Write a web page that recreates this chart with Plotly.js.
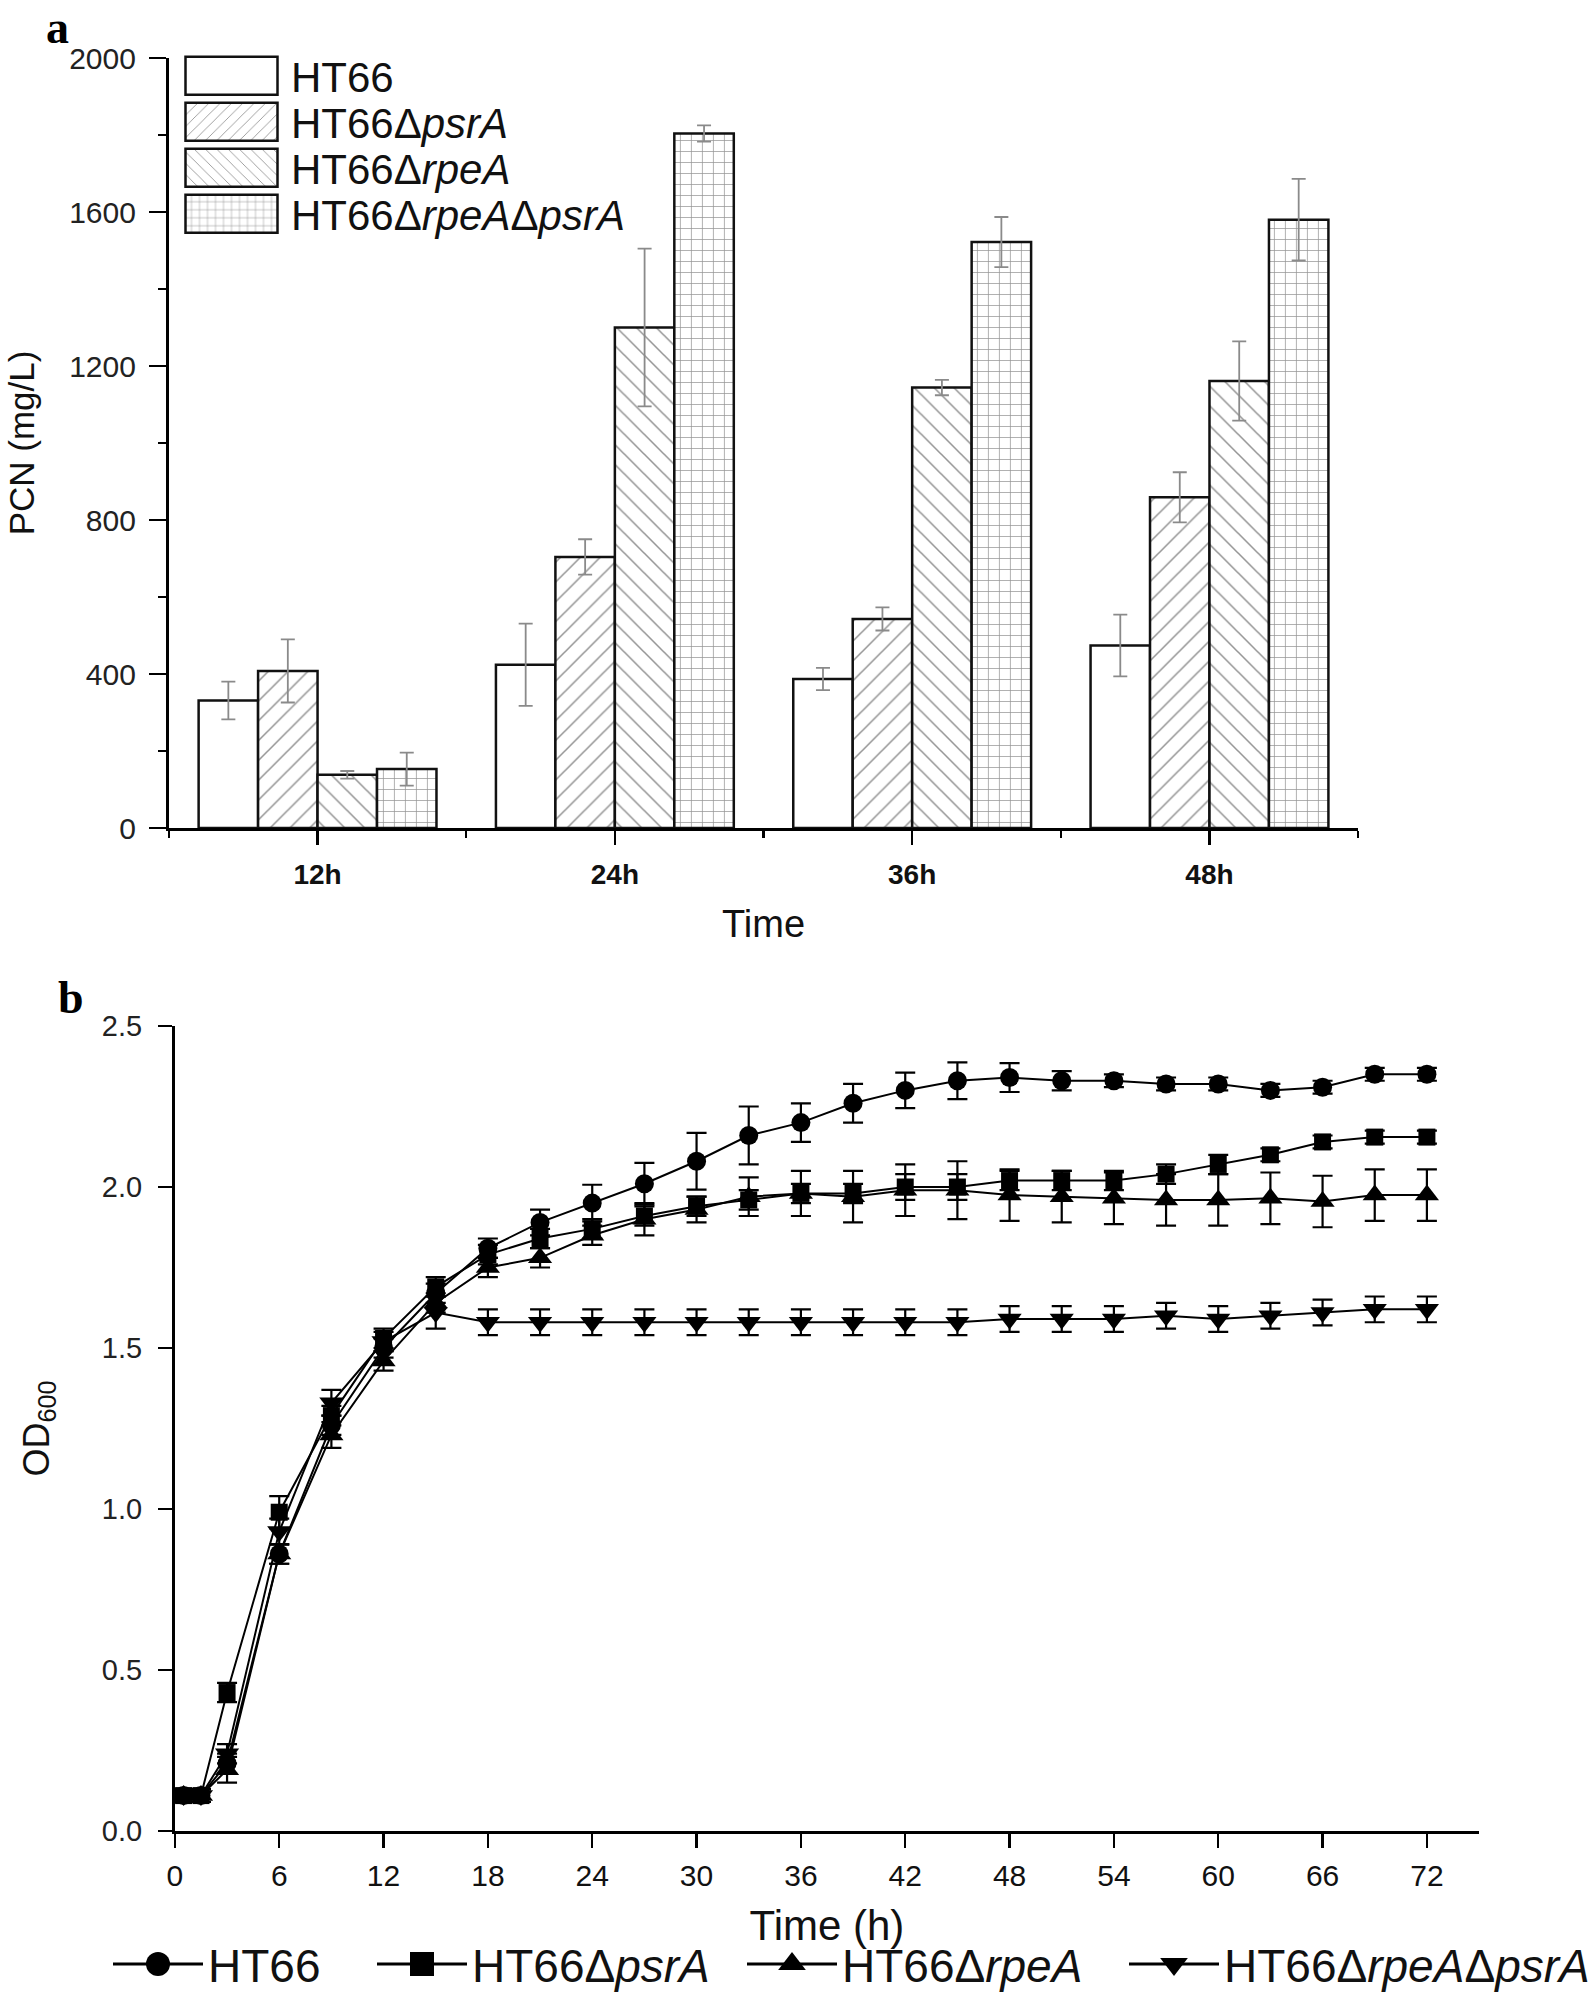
<!DOCTYPE html>
<html>
<head>
<meta charset="utf-8">
<script src="https://cdn.plot.ly/plotly-3.0.1.min.js"></script>
<style>html,body{margin:0;padding:0;background:#fff;} #chart{width:1595px;height:2001px;}</style>
</head>
<body>
<div id="chart"></div>
<script>
// ---------- Panel a data (PCN, mg/L) ----------
const categories = ['12h', '24h', '36h', '48h'];
const seriesNames = ['HT66', 'HT66Δ<i>psrA</i>', 'HT66Δ<i>rpeA</i>', 'HT66Δ<i>rpeA</i>Δ<i>psrA</i>'];
const pcnHT66 = [331, 424, 387, 474];
const pcnHT66Err = [49, 107, 29, 80];
const pcnPsrA = [408, 704, 543, 859];
const pcnPsrAErr = [82, 46, 30, 65];
const pcnRpeA = [138, 1300, 1144, 1161];
const pcnRpeAErr = [10, 205, 20, 103];
const pcnRpeAPsrA = [153, 1804, 1522, 1580];
const pcnRpeAPsrAErr = [43, 21, 65, 106];
const pcnTicks = [0, 400, 800, 1200, 1600, 2000];

// ---------- Panel b data (OD600) ----------
const timeH = [0.5, 1.5, 3, 6, 9, 12, 15, 18, 21, 24, 27, 30, 33, 36, 39, 42, 45, 48, 51, 54, 57, 60, 63, 66, 69, 72];
const odHT66 = [0.11, 0.11, 0.21, 0.86, 1.26, 1.50, 1.67, 1.81, 1.89, 1.95, 2.01, 2.08, 2.16, 2.20, 2.26, 2.30, 2.33, 2.34, 2.33, 2.33, 2.32, 2.32, 2.30, 2.31, 2.35, 2.35];
const odHT66Err = [0.02, 0.02, 0.03, 0.03, 0.03, 0.03, 0.03, 0.03, 0.04, 0.057, 0.065, 0.088, 0.09, 0.06, 0.06, 0.055, 0.057, 0.045, 0.03, 0.02, 0.02, 0.02, 0.02, 0.02, 0.02, 0.02];
const odPsrA = [0.11, 0.11, 0.43, 0.99, 1.29, 1.53, 1.69, 1.79, 1.84, 1.87, 1.91, 1.94, 1.96, 1.98, 1.98, 2.00, 2.00, 2.02, 2.02, 2.02, 2.04, 2.07, 2.10, 2.14, 2.155, 2.155];
const odPsrAErr = [0.02, 0.02, 0.03, 0.05, 0.03, 0.03, 0.03, 0.03, 0.03, 0.03, 0.03, 0.03, 0.03, 0.03, 0.03, 0.04, 0.04, 0.03, 0.03, 0.03, 0.03, 0.03, 0.02, 0.02, 0.02, 0.02];
const odRpeA = [0.11, 0.11, 0.19, 0.86, 1.23, 1.46, 1.64, 1.75, 1.78, 1.85, 1.90, 1.93, 1.97, 1.98, 1.97, 1.99, 1.99, 1.975, 1.97, 1.965, 1.96, 1.96, 1.965, 1.955, 1.975, 1.975];
const odRpeAErr = [0.02, 0.02, 0.04, 0.03, 0.04, 0.03, 0.03, 0.03, 0.03, 0.03, 0.05, 0.04, 0.06, 0.07, 0.08, 0.08, 0.09, 0.08, 0.08, 0.08, 0.08, 0.08, 0.08, 0.08, 0.08, 0.08];
const odRpeAPsrA = [0.11, 0.11, 0.24, 0.93, 1.33, 1.52, 1.61, 1.58, 1.58, 1.58, 1.58, 1.58, 1.58, 1.58, 1.58, 1.58, 1.58, 1.59, 1.59, 1.59, 1.60, 1.59, 1.60, 1.61, 1.62, 1.62];
const odRpeAPsrAErr = [0.02, 0.02, 0.03, 0.04, 0.04, 0.03, 0.05, 0.04, 0.04, 0.04, 0.04, 0.04, 0.04, 0.04, 0.04, 0.04, 0.04, 0.04, 0.04, 0.04, 0.04, 0.04, 0.04, 0.04, 0.04, 0.04];
const timeTicks = [0, 6, 12, 18, 24, 30, 36, 42, 48, 54, 60, 66, 72];
const odTicks = [0, 0.5, 1.0, 1.5, 2.0, 2.5];

// ---------- helpers ----------
const W = 1595, H = 2001;
const FONT = 'Liberation Sans, Arial, Helvetica, sans-serif';
const SERIF = 'Liberation Serif, Times New Roman, serif';
const px = v => v / W;
const py = v => 1 - v / H;
const catIdx = categories.map((c, i) => i);
const catBounds = [-0.5].concat(categories.map((c, i) => i + 0.5));

function barTrace(name, y, err, shape) {
  return {
    type: 'bar', name: name, x: catIdx, y: y, xaxis: 'x', yaxis: 'y',
    marker: {
      color: 'white',
      line: {color: '#111', width: 2.5},
      pattern: {shape: shape, fgcolor: '#2a2a2a', bgcolor: 'white', size: shape === '+' ? 11 : 14, solidity: shape === '+' ? 0.13 : 0.11, fillmode: 'overlay'}
    },
    error_y: {type: 'data', array: err, visible: true, color: '#8a8a8a', thickness: 1.8, width: 7},
    legend: 'legend'
  };
}

function lineTrace(name, y, err, symbol, size, legendId) {
  return {
    type: 'scatter', mode: 'lines+markers', name: name, x: timeH, y: y, xaxis: 'x2', yaxis: 'y2',
    line: {color: '#000', width: 2},
    marker: {symbol: symbol, size: size, color: '#000', line: {width: 0}},
    error_y: {type: 'data', array: err, visible: true, color: '#000', thickness: 2.2, width: 10},
    legend: legendId
  };
}

const data = [
  barTrace(seriesNames[0], pcnHT66, pcnHT66Err, ''),
  barTrace(seriesNames[1], pcnPsrA, pcnPsrAErr, '/'),
  barTrace(seriesNames[2], pcnRpeA, pcnRpeAErr, '\\'),
  barTrace(seriesNames[3], pcnRpeAPsrA, pcnRpeAPsrAErr, '+'),
  lineTrace(seriesNames[0], odHT66, odHT66Err, 'circle', 19, 'legend2'),
  lineTrace(seriesNames[1], odPsrA, odPsrAErr, 'square', 17, 'legend3'),
  lineTrace(seriesNames[2], odRpeA, odRpeAErr, 'triangle-up', 21, 'legend4'),
  lineTrace(seriesNames[3], odRpeAPsrA, odRpeAPsrAErr, 'triangle-down', 21, 'legend5')
];

const axisCommon = {
  showline: true, linecolor: '#000', showgrid: false, zeroline: false,
  ticks: 'outside', tickcolor: '#000', automargin: false
};

const legendB = (x) => ({
  x: px(x), xanchor: 'left', y: py(1964), yanchor: 'middle', xref: 'paper', yref: 'paper',
  orientation: 'h', itemwidth: 90, bgcolor: 'rgba(0,0,0,0)', font: {family: FONT, size: 46, color: '#111'}
});

const layout = {
  width: W, height: H,
  margin: {l: 0, r: 0, t: 0, b: 0},
  paper_bgcolor: 'white', plot_bgcolor: 'white',
  font: {family: FONT, color: '#111'},
  barmode: 'group', bargap: 0.2, bargroupgap: 0,
  xaxis: Object.assign({}, axisCommon, {
    domain: [px(169), px(1359)], anchor: 'y', range: [-0.5, categories.length - 0.5],
    tickmode: 'array', tickvals: catIdx, ticktext: categories,
    ticklen: 14, tickwidth: 2.5, linewidth: 3, ticklabelstandoff: 5,
    tickfont: {family: FONT, size: 28, color: '#111', weight: 'bold'},
    minor: {tickmode: 'array', tickvals: catBounds, ticks: 'outside', ticklen: 7, tickwidth: 2.5, tickcolor: '#000'},
    title: {text: 'Time', font: {family: FONT, size: 38, color: '#111'}, standoff: 22}
  }),
  yaxis: Object.assign({}, axisCommon, {
    domain: [py(828), py(58)], anchor: 'x', range: [0, 2000],
    tickmode: 'array', tickvals: pcnTicks,
    ticklen: 17, tickwidth: 2.5, linewidth: 3, ticklabelstandoff: 7,
    tickfont: {family: FONT, size: 30, color: '#222'},
    minor: {dtick: 200, tick0: 0, ticks: 'outside', ticklen: 8, tickwidth: 2.5, tickcolor: '#000'},
    title: {text: 'PCN (mg/L)', font: {family: FONT, size: 35, color: '#111'}, standoff: 24}
  }),
  xaxis2: Object.assign({}, axisCommon, {
    domain: [px(175), px(1480)], anchor: 'y2', range: [0, 75],
    tickmode: 'array', tickvals: timeTicks,
    ticklen: 14, tickwidth: 2.5, linewidth: 3, ticklabelstandoff: 2,
    tickfont: {family: FONT, size: 30, color: '#111'},
    title: {text: 'Time (h)', font: {family: FONT, size: 42, color: '#111'}, standoff: 20}
  }),
  yaxis2: Object.assign({}, axisCommon, {
    domain: [py(1831), py(1026)], anchor: 'x2', range: [0, 2.5],
    tickmode: 'array', tickvals: odTicks, tickformat: '.1f',
    ticklen: 14, tickwidth: 2.5, linewidth: 3, ticklabelstandoff: 10,
    tickfont: {family: FONT, size: 29, color: '#222'},
    title: {text: 'OD<sub>600</sub>', font: {family: FONT, size: 36, color: '#111'}, standoff: 42}
  }),
  legend: {
    x: px(180), xanchor: 'left', y: py(42), yanchor: 'top', xref: 'paper', yref: 'paper',
    itemwidth: 101, bgcolor: 'rgba(0,0,0,0)', font: {family: FONT, size: 42, color: '#111'}, tracegroupgap: 0
  },
  legend2: legendB(108),
  legend3: legendB(372),
  legend4: legendB(742),
  legend5: legendB(1125),
  annotations: [
    {text: '<b>a</b>', x: px(44), y: 1, xref: 'paper', yref: 'paper', xanchor: 'left', yanchor: 'top', showarrow: false, font: {family: SERIF, size: 46, color: '#000'}},
    {text: '<b>b</b>', x: px(56), y: py(970), xref: 'paper', yref: 'paper', xanchor: 'left', yanchor: 'top', showarrow: false, font: {family: SERIF, size: 46, color: '#000'}}
  ],
  showlegend: true
};

Plotly.newPlot('chart', data, layout, {displayModeBar: false, staticPlot: true}).then(function () {
  // enlarge the bar legend keys to the wide boxes of the original figure
  document.querySelectorAll('g.legend path').forEach(function (p) {
    if (p.getAttribute('d') === 'M6,6H-6V-6H6Z') p.setAttribute('d', 'M42,19H-50V-19H42Z');
  });
  // tighten the vertical spacing of the panel-a legend
  var y0 = null;
  document.querySelectorAll('g.legend g.traces').forEach(function (g, i) {
    var m = /translate\(\s*([-\d.]+)[ ,]+([-\d.]+)\s*\)/.exec(g.getAttribute('transform') || '');
    if (!m) return;
    if (y0 === null) y0 = parseFloat(m[2]);
    g.setAttribute('transform', 'translate(' + m[1] + ',' + (y0 + i * 46) + ')');
  });
  // panel-b legend: slightly larger markers and thicker key lines, as in the original
  ['legend2', 'legend3', 'legend4', 'legend5'].forEach(function (id) {
    document.querySelectorAll('g.' + id + ' .legendpoints path.scatterpts').forEach(function (p) {
      var t = p.getAttribute('transform') || '';
      p.setAttribute('transform', t + ' scale(1.5)');
    });
    document.querySelectorAll('g.' + id + ' .legendlines path').forEach(function (p) {
      p.style.strokeWidth = '3px';
    });
  });
});
</script>
</body>
</html>
